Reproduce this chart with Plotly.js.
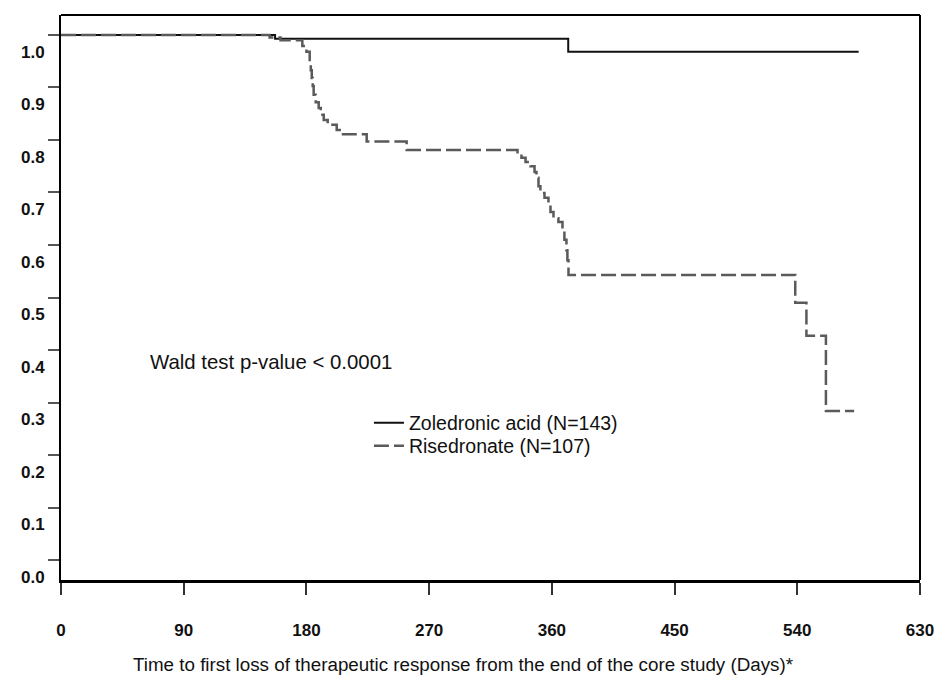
<!DOCTYPE html>
<html>
<head>
<meta charset="utf-8">
<script src="https://cdn.plot.ly/plotly-3.0.1.min.js"></script>
<style>html,body{margin:0;padding:0;background:#fff;}#chart{width:938px;height:678px;}</style>
</head>
<body>
<div id="chart"></div>
<script>
// Zoledronic acid (N=143) — Kaplan-Meier steps (days, proportion without loss)
const zolDays = [0, 157, 372, 585];
const zolSurv = [1.0, 0.993, 0.968, 0.968];

// Risedronate (N=107)
const risDays = [0, 153, 161, 177, 180, 182.4, 183.2, 183.9, 184.6, 185.3, 186.8, 189, 190.5, 192.7, 195.6, 202.2, 204.4, 224.2, 253.5,
  334.8, 337.7, 340.7, 344.3, 347.3, 348.7, 350.2, 351.6, 354.6, 357.5, 359, 361.2, 364.8, 367.8, 369.2, 370.7, 371.4, 372.2,
  538.5, 546.7, 561, 581.7];
const risSurv = [1.0, 0.995, 0.990, 0.979, 0.968, 0.949, 0.933, 0.918, 0.903, 0.886, 0.872, 0.861, 0.848, 0.838, 0.829, 0.819, 0.811, 0.797, 0.781,
  0.773, 0.766, 0.758, 0.750, 0.739, 0.728, 0.712, 0.699, 0.690, 0.676, 0.663, 0.651, 0.644, 0.629, 0.610, 0.590, 0.571, 0.543,
  0.490, 0.427, 0.284, 0.284];

const seriesNames = ["Zoledronic acid (N=143)", "Risedronate (N=107)"];
const xTicks = [0, 90, 180, 270, 360, 450, 540, 630];
const yTicks = [0, 0.1, 0.2, 0.3, 0.4, 0.5, 0.6, 0.7, 0.8, 0.9, 1.0];
const yTickText = ["0.0", "0.1", "0.2", "0.3", "0.4", "0.5", "0.6", "0.7", "0.8", "0.9", "1.0"];
const xTitle = "Time to first loss of therapeutic response from the end of the core study (Days)*";
const noteText = "Wald test p-value < 0.0001";

const FONT = "Arial, 'Liberation Sans', Helvetica, sans-serif";
const NARROW = "'Liberation Sans Narrow', 'Arial Narrow', Arial, sans-serif";

const traces = [
  {x: zolDays, y: zolSurv, name: seriesNames[0], mode: "lines", legend: "legend",
   line: {shape: "hv", color: "#111", width: 2}},
  {x: risDays, y: risSurv, name: seriesNames[1], mode: "lines", legend: "legend2",
   line: {shape: "hv", color: "#5a5a5a", width: 2.5, dash: "15px,5px"}}
];

const legendFont = {family: FONT, size: 19.5, color: "#111"};

const layout = {
  width: 938, height: 678,
  margin: {l: 61, r: 18, t: 15, b: 98},
  paper_bgcolor: "#fff", plot_bgcolor: "#fff",
  showlegend: true,
  legend: {x: 0.3585, y: 0.2779, xanchor: "left", yanchor: "middle",
    bgcolor: "rgba(0,0,0,0)", borderwidth: 0, font: legendFont},
  legend2: {x: 0.3585, y: 0.2372, xanchor: "left", yanchor: "middle",
    bgcolor: "rgba(0,0,0,0)", borderwidth: 0, font: legendFont},
  xaxis: {
    range: [0, 630], tickvals: xTicks, ticktext: xTicks.map(String),
    showgrid: false, zeroline: false,
    showline: true, linecolor: "#000", linewidth: 3,
    ticks: "outside", ticklen: 12, tickwidth: 2, tickcolor: "#333",
    ticklabelstandoff: 21,
    tickfont: {family: NARROW, size: 17, color: "#111", weight: "bold"}
  },
  yaxis: {
    range: [-0.038, 1.038], tickvals: yTicks, ticktext: yTickText,
    showgrid: false, zeroline: false,
    showline: true, linecolor: "#000", linewidth: 2,
    ticks: "outside", ticklen: 11, tickwidth: 2, tickcolor: "#555",
    ticklabelshift: 17,
    tickfont: {family: NARROW, size: 17, color: "#111", weight: "bold"}
  },
  shapes: [
    {type: "line", xref: "paper", yref: "paper", x0: 0, x1: 1, y0: 1, y1: 1, line: {color: "#000", width: 2}},
    {type: "line", xref: "paper", yref: "paper", x0: 1, x1: 1, y0: 0, y1: 1, line: {color: "#000", width: 2}}
  ],
  annotations: [
    {text: noteText, xref: "x", yref: "y", x: 64, y: 0.377, xanchor: "left", yanchor: "middle",
     showarrow: false, font: {family: FONT, size: 20.4, color: "#111"}},
    {text: xTitle, xref: "paper", yref: "paper", x: 0.469, y: -0.150, xanchor: "center", yanchor: "middle",
     showarrow: false, font: {family: FONT, size: 18.8, color: "#111"}}
  ]
};

Plotly.newPlot("chart", traces, layout, {displayModeBar: false, staticPlot: true});
</script>
</body>
</html>
